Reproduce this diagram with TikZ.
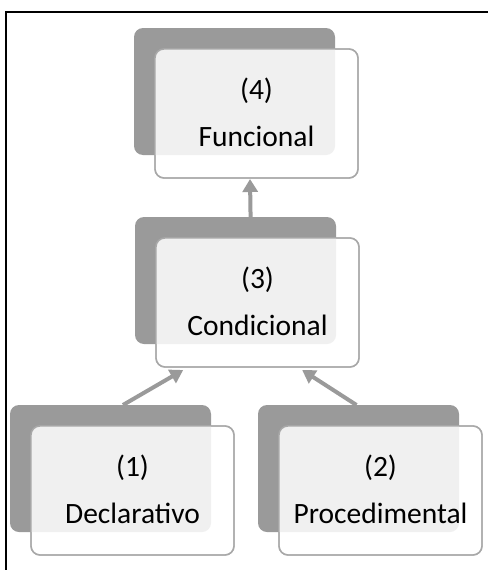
\documentclass[tikz,border=0pt]{standalone}
\usepackage{fontspec}
\setmainfont{Carlito}
\usetikzlibrary{calc,arrows.meta}
\definecolor{shade}{HTML}{9A9A9A}
\definecolor{rim}{HTML}{A8A8A8}
\definecolor{paper}{HTML}{F0F0F0}
\tikzset{
  backcard/.style={fill=shade, draw=none, rounded corners=9pt, minimum width=201pt,
    minimum height=127pt, inner sep=0pt, outer sep=0pt, anchor=north west},
  frontcard/.style={fill=white, draw=rim, line width=1.4pt, rounded corners=9pt,
    minimum width=203pt, minimum height=129pt, inner sep=0pt, outer sep=0pt, anchor=north west},
  rimline/.style={draw=rim, line width=1.4pt, rounded corners=9pt},
  cardtext/.style={inner sep=0pt, font=\fontsize{29.5}{35}\selectfont, text=black},
  link/.style={draw=shade, line width=4pt, -{Triangle[width=15pt,length=13pt]}},
  frame/.style={draw=black, line width=1.3pt}
}
% one card: a grey backing plate with a white card on top of it
% #1 name, #2/#3 top-left corner of the plate, #4 number, #5 word
\newcommand\card[5]{%
  \node[backcard] (#1back) at (#2,#3) {};
  \node[frontcard] (#1) at ({#2+21},{#3+21}) {};
  \begin{scope}
    \clip[rounded corners=9pt] (#1.north west) rectangle (#1.south east);
    \fill[paper, rounded corners=9pt] (#1back.north west) rectangle (#1back.south east);
  \end{scope}
  \draw[rimline] (#1.north west) rectangle (#1.south east);
  \node[cardtext] (#1num) at ($(#1.center)+(0,-22.5)$) {(#4)};
  \node[cardtext] (#1word) at ($(#1.center)+(0,22.5)$) {#5};
}
\begin{document}
\begin{tikzpicture}[x=1pt, y=-1pt]
  \useasboundingbox (0,0) rectangle (488,570);
  % frame lines
  \draw[frame] (6,570) -- (6,12) -- (488,12);

  \card{funcional}{134}{28}{4}{Funcional}
  \card{condicional}{135}{217}{3}{Condicional}
  \card{declarativo}{10}{405}{1}{Declarativo}
  \card{procedimental}{258}{405}{2}{Procedimental}

  % connector end points
  \coordinate (upA) at ($(condicionalback.north west)!0.575!(condicionalback.north east)$);
  \coordinate (upB) at ($(funcional.south west)!0.468!(funcional.south east)+(0,1)$);
  \coordinate (leftA) at ($(declarativoback.north west)!0.562!(declarativoback.north east)$);
  \coordinate (leftB) at ($(condicional.south west)!0.134!(condicional.south east)+(0,3)$);
  \coordinate (rightA) at ($(procedimentalback.north west)!0.49!(procedimentalback.north east)$);
  \coordinate (rightB) at ($(condicional.south west)!0.72!(condicional.south east)+(0,3)$);

  \draw[link] (upA) -- (upB);
  \draw[link] (leftA) -- (leftB);
  \draw[link] (rightA) -- (rightB);
\end{tikzpicture}
\end{document}
